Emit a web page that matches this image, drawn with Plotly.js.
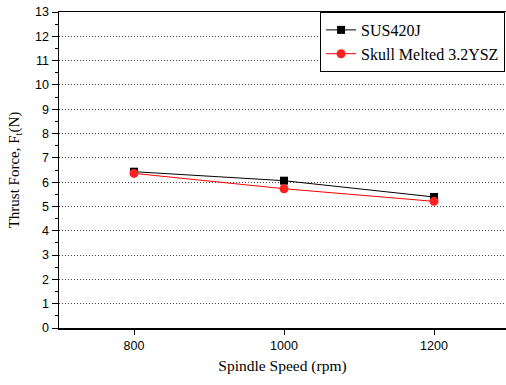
<!DOCTYPE html>
<html><head><meta charset="utf-8">
<script src="https://cdn.plot.ly/plotly-3.0.1.min.js"></script>
<style>html,body{margin:0;padding:0;background:#fff}#c{width:506px;height:385px}</style>
</head><body><div id="c"></div>
<script>
const speeds = [800, 1000, 1200];
const sus420j = [6.43, 6.06, 5.39];
const skull = [6.36, 5.73, 5.21];
const names = ["SUS420J", "Skull Melted 3.2YSZ"];
const yTicks = [0,1,2,3,4,5,6,7,8,9,10,11,12,13];

const SERIF = "Liberation Serif";
const SANS = "Liberation Sans";

const traces = [
  {x: speeds, y: sus420j, name: names[0], mode: "lines+markers", type: "scatter",
   line: {color: "#000", width: 1}, marker: {symbol: "square", size: 8, color: "#000"}},
  {x: speeds, y: skull, name: names[1], mode: "lines+markers", type: "scatter",
   line: {color: "#ff0000", width: 1}, marker: {symbol: "circle", size: 9, color: "#ff2020"}}
];
const layout = {
  width: 506, height: 385,
  margin: {l: 59, r: 0, t: 12, b: 57},
  paper_bgcolor: "#fff", plot_bgcolor: "#fff",
  font: {family: SERIF},
  showlegend: true,
  legend: {x: 0.584, y: 1, xanchor: "left", yanchor: "top", bordercolor: "#000", borderwidth: 1,
    bgcolor: "#fff", font: {family: SERIF, size: 16, color: "#000"},
    tracegroupgap: 0},
  xaxis: {range: [700, 1296], tickvals: speeds, ticktext: speeds.map(String),
    ticks: "outside", ticklen: 5, tickcolor: "#000", showgrid: false, zeroline: false,
    showline: true, linecolor: "#000", linewidth: 1.5, mirror: true,
    tickfont: {family: SANS, size: 12.5, color: "#000"},
    title: {text: "Spindle Speed (rpm)", font: {family: SERIF, size: 15.5, color: "#000"}, standoff: 8}},
  yaxis: {range: [0, 13], tickvals: yTicks, ticks: "outside", ticklen: 6, tickcolor: "#000",
    minor: {dtick: 0.5, ticks: "outside", ticklen: 3, tickcolor: "#000", showgrid: false},
    showgrid: true, gridcolor: "#444", griddash: "1px,2px", gridwidth: 1, zeroline: false,
    showline: true, linecolor: "#000", linewidth: 1.5, mirror: false,
    tickfont: {family: SANS, size: 12.5, color: "#000"},
    title: {text: "Thrust Force, F<sub>t</sub>(N)", font: {family: SERIF, size: 15, color: "#000"}, standoff: 12}}
};
Plotly.newPlot("c", traces, layout, {displayModeBar: false, staticPlot: true});
</script></body></html>
